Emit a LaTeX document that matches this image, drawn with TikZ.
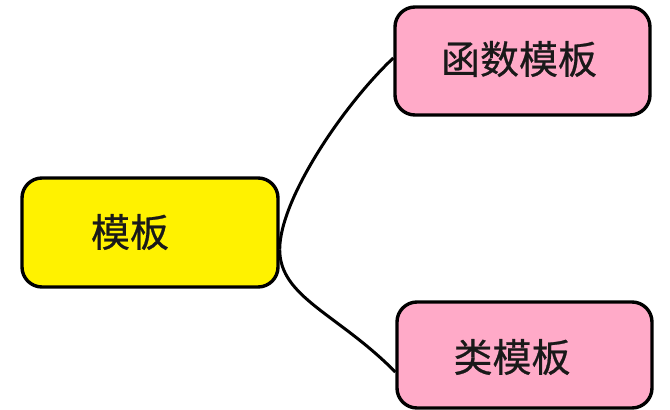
\documentclass[tikz,border=0pt]{standalone}
\usepackage{fontspec}
\newfontfamily\cjk[FakeBold=0.6]{Noto Sans CJK SC}
\definecolor{boxyellow}{RGB}{255,242,0}
\definecolor{boxpink}{RGB}{255,170,200}
\begin{document}
\begin{tikzpicture}[x=1pt,y=-1pt,
  box/.style={draw=black,line width=3.4pt,rounded corners=20pt,minimum width=#1,inner sep=0pt},
  lbl/.style={font=\cjk\fontsize{39}{42}\selectfont,inner sep=0pt,text=black!90},
  link/.style={draw=black,line width=3pt}]
\useasboundingbox (0,0) rectangle (670,410);
\node[box=256pt,minimum height=109pt,fill=boxyellow] (root) at (150,232.5) {};
\node[box=255pt,minimum height=108pt,fill=boxpink] (fn) at (522.5,61) {};
\node[box=255pt,minimum height=106pt,fill=boxpink] (cls) at (524.5,355) {};
\node[lbl] (roottxt) at (130,232) {模板};
\node[lbl] (fntxt) at (519,59) {函数模板};
\node[lbl] (clstxt) at (512,357) {类模板};
\coordinate (j) at ([yshift=-17pt]root.east);
\coordinate (fnin) at ([yshift=3pt]fn.west);
\coordinate (clsin) at ([yshift=-17pt]cls.west);
\draw[link] (j) .. controls ++(0,-50) and ++(-50,47) .. (fnin);
\draw[link] (j) .. controls ++(0,48) and ++(-57,-58) .. (clsin);
\end{tikzpicture}
\end{document}
